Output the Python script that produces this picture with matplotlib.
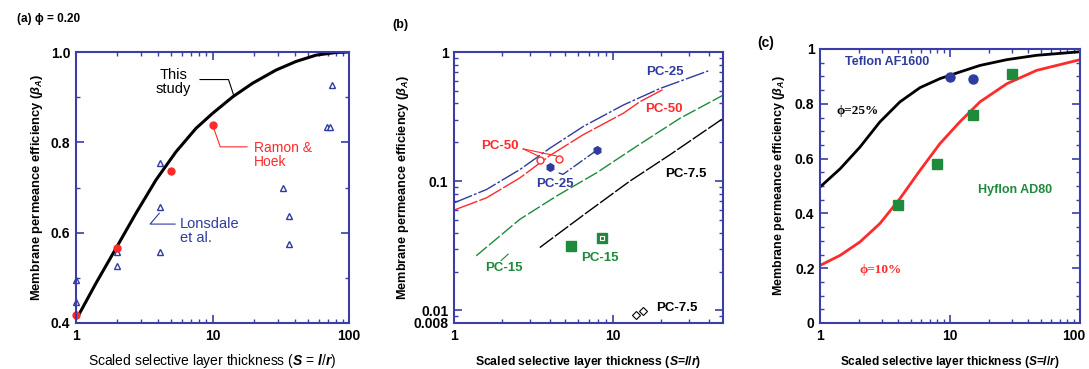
import numpy as np
import matplotlib.pyplot as plt
import matplotlib.transforms as mtransforms
from matplotlib.ticker import LogLocator, MultipleLocator, FixedLocator, NullFormatter

plt.rcParams['font.family'] = ['Liberation Sans', 'DejaVu Sans']
plt.rcParams['mathtext.fontset'] = 'custom'
plt.rcParams['mathtext.it'] = 'Liberation Sans:italic:bold'
plt.rcParams['mathtext.rm'] = 'Liberation Sans:bold'

AX_BLUE = "#3b3ea8"
TXT_BLUE = "#2f3c9e"
RED = "#ff2a2a"
GREEN = "#1f8a3c"

# ---- panel (a) data ----
a_curve_x = [1, 1.03, 1.40, 1.96, 2.75, 3.86, 5.40, 7.57, 10, 14.1, 19.7, 29.2, 40.9, 57.3, 80.3, 100]
a_curve_y = [0.41, 0.414, 0.488, 0.565, 0.643, 0.717, 0.779, 0.831, 0.864, 0.901, 0.931, 0.960, 0.979, 0.993, 0.999, 1.0]
lons_x = [1, 1, 2, 2, 4.1, 4.1, 4.1, 32.6, 36.3, 36.3, 69, 73, 75]
lons_y = [0.496, 0.446, 0.557, 0.526, 0.755, 0.657, 0.557, 0.698, 0.637, 0.576, 0.835, 0.835, 0.928]
ramon_x = [1, 2, 5.0, 10]
ramon_y = [0.418, 0.567, 0.736, 0.839]

# ---- panel (b) data ----
pc25_x = [1, 1.6, 2.59, 4.0, 6.48, 11.6, 19.7, 39.6]
pc25_y = [0.068, 0.0863, 0.123, 0.180, 0.265, 0.389, 0.522, 0.714]
pc50_x = [1, 1.6, 2.59, 4.0, 6.48, 11.6, 14.7, 20.6]
pc50_y = [0.0598, 0.0744, 0.106, 0.158, 0.229, 0.336, 0.412, 0.513]
pc15_x = [1.38, 2.59, 4.4, 7.85, 14.0, 26.3, 49.2]
pc15_y = [0.0265, 0.0507, 0.0767, 0.116, 0.186, 0.307, 0.464]
pc75_x = [3.46, 6.8, 12.7, 22.7, 49.2]
pc75_y = [0.0307, 0.057, 0.10, 0.160, 0.307]
pc50_pts_x = [3.46, 4.58]
pc50_pts_y = [0.145, 0.149]
pc25_pts_x = [4.0, 7.97]
pc25_pts_y = [0.130, 0.175]
pc25_fit_x = [4.55, 4.84, 7.86]
pc25_fit_y = [0.116, 0.113, 0.173]
pc15_pts_x = [5.42, 8.45]
pc15_pts_y = [0.0316, 0.0362]
pc75_pts_x = [14.0, 15.3]
pc75_pts_y = [0.00927, 0.0099]

# ---- panel (c) data ----
c_x = [1, 1.43, 2.03, 2.89, 4.12, 5.88, 8.38, 11.9, 17.0, 27.3, 46.4, 100]
c25_y = [0.496, 0.563, 0.642, 0.734, 0.807, 0.859, 0.892, 0.916, 0.940, 0.961, 0.977, 0.990]
c10_y = [0.210, 0.247, 0.296, 0.363, 0.454, 0.557, 0.655, 0.734, 0.807, 0.873, 0.922, 0.961]
teflon_x = [10, 14.9]
teflon_y = [0.898, 0.889]
hyflon_x = [3.96, 8.0, 14.9, 29.8]
hyflon_y = [0.429, 0.581, 0.758, 0.910]

fig = plt.figure(figsize=(10.89, 3.69), dpi=100)


def style_ax(ax):
    for s in ax.spines.values():
        s.set_color(AX_BLUE)
        s.set_linewidth(1.5)
    ax.tick_params(which='both', direction='in', top=True, right=True, color=AX_BLUE,
                   labelsize=10, pad=4)
    ax.tick_params(which='major', length=6, width=1.2)
    ax.tick_params(which='minor', length=3, width=1)
    for lab in ax.get_xticklabels() + ax.get_yticklabels():
        lab.set_fontweight('bold')


# (a)
ax = fig.add_axes([76/1089, 46/369, 273/1089, 271/369])
ax.set_xscale('log')
ax.set_xlim(1, 100)
ax.set_ylim(0.4, 1.0)
ax.plot(a_curve_x, a_curve_y, color='black', lw=2.2)
ax.plot(lons_x, lons_y, ls='none', marker='^', ms=5, mfc='white', mec=TXT_BLUE, mew=1, clip_on=False)
ax.plot(ramon_x, ramon_y, ls='none', marker='o', ms=5, color=RED, clip_on=False)
ax.set_yticks([0.4, 0.6, 0.8, 1.0])
ax.set_yticklabels(['0.4', '0.6', '0.8', '1.0'])
ax.yaxis.set_minor_locator(MultipleLocator(0.1))
ax.set_xticks([1, 10, 100])
ax.set_xticklabels(['1', '10', '100'])
ax.xaxis.set_minor_locator(LogLocator(subs=np.arange(2, 10)))
ax.xaxis.set_minor_formatter(NullFormatter())
style_ax(ax)
ax.plot([8.1, 13.1, 14.3], [0.939, 0.939, 0.904], color='black', lw=0.8)
ax.text(5.2, 0.934, "This\nstudy", ha='center', va='center', fontsize=10.5, linespacing=1.0)
ax.plot([10, 11.4, 17.9], [0.839, 0.79, 0.79], color=RED, lw=0.8)
ax.text(20, 0.773, "Ramon &\nHoek", ha='left', va='center', fontsize=10, color=RED, linespacing=1.0)
ax.plot([4.08, 3.49, 5.32], [0.643, 0.619, 0.619], color=TXT_BLUE, lw=0.8)
ax.text(5.79, 0.603, "Lonsdale\net al.", ha='left', va='center', fontsize=10.5, color=TXT_BLUE, linespacing=1.0)
ax.set_ylabel(r"Membrane permeance efficiency ($\beta_A$)", fontsize=9.3, fontweight='bold', labelpad=4)
ax.set_xlabel(r"Scaled selective layer thickness ($S$ = $l$/$r$)", fontsize=10, labelpad=7)
fig.text(17/1089, 1 - 19/369, "(a) ϕ = 0.20", fontsize=8.5, fontweight='bold', va='center')

# (b)
ax = fig.add_axes([454/1089, 46/369, 269/1089, 271/369])
ax.set_xscale('log')
ax.set_yscale('log')
ax.set_xlim(1, 49)
ax.set_ylim(0.008, 1)
ax.plot(pc25_x, pc25_y, color=TXT_BLUE, lw=1, dashes=(14, 1.5, 2, 1.5))
ax.plot(pc50_x, pc50_y, color=RED, lw=1, dashes=(18, 1.5))
ax.plot(pc15_x, pc15_y, color=GREEN, lw=1, dashes=(10, 2))
ax.plot(pc75_x, pc75_y, color='black', lw=1, dashes=(12, 1.5))
ax.plot(pc50_pts_x, pc50_pts_y, ls='none', marker='o', ms=5, mfc='white', mec=RED, mew=1)
ax.plot(pc25_pts_x, pc25_pts_y, ls='none', marker='h', ms=5.5, color=TXT_BLUE)
ax.plot(pc25_fit_x, pc25_fit_y, color=TXT_BLUE, lw=1, dashes=(8, 1.5, 1.5, 1.5))
ax.plot(pc15_pts_x, pc15_pts_y, ls='none', marker='s', ms=6.5, color=GREEN)
ax.plot(pc15_pts_x[1:], pc15_pts_y[1:], ls='none', marker='s', ms=3, mfc=GREEN, mec='white', mew=0.8)
ax.plot(pc75_pts_x, pc75_pts_y, ls='none', marker='D', ms=4.5, mfc='white', mec='black', mew=0.8)
ax.plot([2.72, 3.37], [0.178, 0.157], color=RED, lw=0.8)
ax.plot([2.72, 4.4], [0.178, 0.157], color=RED, lw=0.8)
ax.plot([1.98, 2.19], [0.0244, 0.0273], color=GREEN, lw=0.8)
kw = dict(fontsize=9.5, fontweight='bold', ha='left', va='center')
ax.text(16.2, 0.70, "PC-25", color=TXT_BLUE, **kw)
ax.text(15.8, 0.362, "PC-50", color=RED, **kw)
ax.text(1.49, 0.189, "PC-50", color=RED, **kw)
ax.text(3.3, 0.0953, "PC-25", color=TXT_BLUE, **kw)
ax.text(21.2, 0.114, "PC-7.5", color='black', **kw)
ax.text(6.32, 0.0256, "PC-15", color=GREEN, **kw)
ax.text(1.56, 0.0215, "PC-15", color=GREEN, **kw)
ax.text(18.7, 0.0104, "PC-7.5", color='black', **kw)
ax.yaxis.set_major_locator(FixedLocator([0.008, 0.01, 0.1, 1]))
ax.set_yticklabels(['0.008', '0.01', '0.1', '1'])
ax.yaxis.set_minor_locator(LogLocator(subs=np.arange(2, 10)))
ax.yaxis.set_minor_formatter(NullFormatter())
ax.set_xticks([1, 10])
ax.set_xticklabels(['1', '10'])
ax.xaxis.set_minor_locator(LogLocator(subs=np.arange(2, 10)))
ax.xaxis.set_minor_formatter(NullFormatter())
style_ax(ax)
ax.set_ylabel(r"Membrane permeance efficiency ($\beta_A$)", fontsize=9.2, fontweight='bold', labelpad=2)
ax.set_xlabel(r"Scaled selective layer thickness ($S$=$l$/$r$)", fontsize=8.8, fontweight='bold', labelpad=8)
fig.text(392/1089, 1 - 25/369, "(b)", fontsize=9, fontweight='bold', va='center')

# (c)
ax = fig.add_axes([820/1089, 46/369, 260/1089, 274/369])
ax.set_xscale('log')
ax.set_xlim(1, 100)
ax.set_ylim(0, 1)
ax.plot(c_x, c25_y, color='black', lw=2)
ax.plot(c_x, c10_y, color=RED, lw=2)
ax.plot(teflon_x, teflon_y, ls='none', marker='o', ms=6.5, color=TXT_BLUE)
ax.plot(hyflon_x, hyflon_y, ls='none', marker='s', ms=6.5, color=GREEN)
ax.text(1.56, 0.951, "Teflon AF1600", color=TXT_BLUE, fontsize=9, fontweight='bold', va='center')
ax.text(16.3, 0.487, "Hyflon AD80", color=GREEN, fontsize=9, fontweight='bold', va='center')
ax.text(1.34, 0.775, "ϕ=25%", color='black', fontsize=9.5, fontweight='bold',
        family='Liberation Serif', va='center')
ax.text(2.0, 0.195, "ϕ=10%", color=RED, fontsize=9.5, fontweight='bold',
        family='Liberation Serif', va='center')
ax.set_yticks([0, 0.2, 0.4, 0.6, 0.8, 1])
ax.set_yticklabels(['0', '0.2', '0.4', '0.6', '0.8', '1'])
ax.yaxis.set_minor_locator(MultipleLocator(0.05))
ax.set_xticks([1, 10, 100])
ax.set_xticklabels(['1', '10', '100'])
ax.xaxis.set_minor_locator(LogLocator(subs=np.arange(2, 10)))
ax.xaxis.set_minor_formatter(NullFormatter())
style_ax(ax)
# keep "100" inside the figure edge
last = ax.get_xticklabels()[-1]
last.set_transform(last.get_transform() + mtransforms.ScaledTranslation(-6/100, 0, fig.dpi_scale_trans))
ax.set_ylabel(r"Membrane permeance efficiency ($\beta_A$)", fontsize=9, fontweight='bold', labelpad=6)
ax.set_xlabel(r"Scaled selective layer thickness ($S$=$l$/$r$)", fontsize=8.6, fontweight='bold', labelpad=8)
fig.text(757/1089, 1 - 43/369, "(c)", fontsize=10, fontweight='bold', va='center')

fig.savefig("out.png", dpi=100)
